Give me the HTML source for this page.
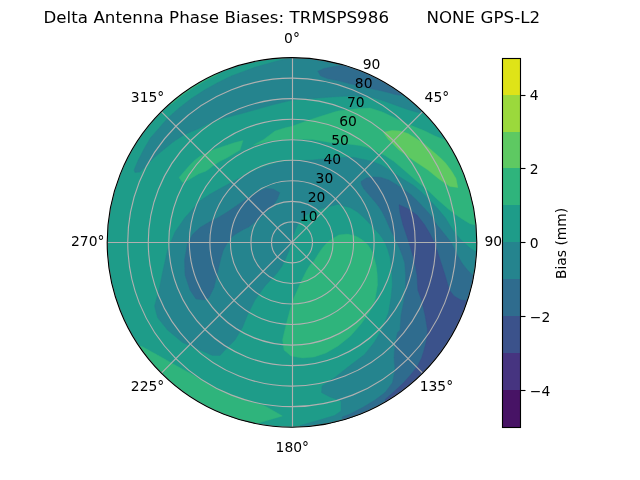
<!DOCTYPE html>
<html><head><meta charset="utf-8"><title>Delta Antenna Phase Biases</title>
<style>
html,body{margin:0;padding:0;background:#fff;}
body{width:640px;height:480px;overflow:hidden;}
svg{display:block;}
text{font-family:"DejaVu Sans","Liberation Sans",sans-serif;fill:#000;}
.t{font-size:13.889px;}
.g{fill:none;stroke:#b0b0b0;stroke-width:1.111;}
</style></head><body>
<svg width="640" height="480" viewBox="0 0 640 480">
<rect width="640" height="480" fill="#fff"/>
<defs><clipPath id="c"><circle cx="292" cy="242.4" r="184.8"/></clipPath></defs>
<g clip-path="url(#c)">
<rect x="100" y="50" width="390" height="390" fill="#1e9c89"/>
<path d="M134 170 L138 160.6 L143.75 149.4 L150.3 138 L157.8 129.5 L167.72 118.12 L179.15 107.91 L191.3 98.59 L204.12 90.18 L217.54 82.73 L231.39 75.88 L254.77 67.26 L276.14 61.17 L292 57.6 L301.78 55.8 L302.21 47.6 L316.45 48.87 L330.56 51.18 L344.46 54.52 L358.08 58.87 L371.34 64.2 L384.18 70.49 L396.52 77.7 L408.3 85.8 L419.46 94.74 L429.93 104.47 L422 113.5 L416 112 L407.5 109.5 L395 105 L382.5 100.6 L370 97 L355 96 L340 96.5 L325 97.5 L312.5 98.5 L301 99 L292 100.25 L284.4 102 L271 105.3 L256 109.6 L241 113.75 L230 116.6 L218.75 119.4 L207.5 124 L198 129 L190.6 132 L183 135.5 L173.75 141.5 L164.4 149 L155 156.9 L147.5 164.4 L140 172 L135 172.5Z" fill="#25848e" stroke="#25848e" stroke-width="0.4"/>
<path d="M477 252.5 L473.75 250.6 L468.75 247 L463.75 242.5 L458.75 237.5 L453.75 231.25 L450 225.5 L445.5 218 L438.5 209.5 L431 201.5 L422 192.5 L413 185 L403.75 179.5 L396.25 174.4 L388.75 169.4 L381.25 165 L373.75 161.9 L366.25 160 L360 158.75 L355 157.5 L340 157.3 L327.5 158.5 L312.5 160 L292 161 L278.75 162.25 L265.6 166.3 L256.25 170 L246.9 174 L237.5 179.3 L228 184.3 L218.75 189.3 L209.4 194.5 L200 200.8 L185 217.5 L175 232 L167.5 250 L162.5 272.5 L159 290 L154.5 306 L157.5 317.5 L167.5 330 L182.5 342.5 L200 350 L212.5 355.5 L220 355.5 L225 350 L235 340 L242.5 327.5 L247.5 315 L255 300 L265 286 L273 277.5 L277.5 272.5 L281.9 266.25 L285.6 258.75 L288.75 251.25 L291.25 243.75 L293.2 236.25 L295.5 229.5 L299.4 222 L305 215.8 L312.5 211.5 L325 207.5 L337.5 204.5 L350 207.5 L357.5 212 L363.75 217.5 L369 223 L374 228.5 L378.75 233.5 L382.5 238.5 L385.6 244 L388 250.5 L390 257.5 L391.25 266.25 L392 275 L392.3 285 L391 297.5 L388.5 312.5 L383 327.5 L374.5 342 L364.5 354.5 L348 367 L335.5 377 L322 386 L321.5 392.5 L330 397 L341 401 L341 411 L334.5 415.5 L317.5 420.6 L300 425.5 L302.21 437.2 L302.21 437.2 L315.93 435.99 L329.54 433.82 L342.96 430.69 L356.12 426.63 L368.96 421.64 L381.42 415.76 L393.44 409.02 L404.95 401.44 L415.89 393.07 L426.22 383.95 L435.87 374.13 L444.81 363.64 L452.99 352.55 L460.36 340.91 L466.9 328.78 L472.56 316.22 L477.32 303.3 L481.15 290.06 L484.05 276.59 L485.98 262.95 L486.95 249.21Z" fill="#25848e" stroke="#25848e" stroke-width="0.4"/>
<path d="M317.8 71.25 L324 68.4 L334 66.5 L343 65.25 L352.5 66.5 L355.51 57.96 L369.78 63.51 L383.58 70.17 L396.81 77.88 L409.39 86.61 L401 95.5 L395 94.4 L390 93 L380 90.6 L370 88.5 L360 86 L348.75 83.4 L337.5 80.6 L328 78.75 L320.6 76Z" fill="#2f6c8e" stroke="#2f6c8e" stroke-width="0.4"/>
<path d="M279.7 192.8 L273 189 L265.6 188.5 L256.25 192.8 L246.9 198.4 L237.5 205 L228 211.6 L218.75 217.2 L209.4 221.9 L200 227.5 L193 234 L187.5 243 L184.5 260 L185 275 L190 290 L196 299 L205 300 L209 297.5 L214 287.5 L217.5 272.5 L221 258 L223.4 250 L227 243.5 L230 240 L232.5 236.25 L236.25 233.75 L242.5 230 L248.75 226.9 L253.75 223 L258.75 218.75 L263.75 213.75 L268.75 209.4 L273.75 204.4 L277.5 198.75Z" fill="#2f6c8e" stroke="#2f6c8e" stroke-width="0.4"/>
<path d="M361 181.5 L361.25 184 L363.75 188.75 L368 193.75 L373 199.4 L378 205.6 L382.5 212.5 L386.25 220 L389.4 227.5 L392.5 234 L395 238.5 L397.5 243.75 L400 249.5 L402.5 256 L404.7 263 L405.6 275 L405.6 290 L404 300 L401 315 L400 330 L397.5 332.5 L395 345 L394 357.5 L395 370 L392.5 382.5 L385 392.5 L375 400 L362.5 407.5 L350 414 L342 417 L345.77 429.91 L345.77 429.91 L358.72 425.7 L371.34 420.6 L383.58 414.63 L395.37 407.83 L406.66 400.21 L417.39 391.83 L427.5 382.72 L436.96 372.93 L445.71 362.5 L453.72 351.48 L460.93 339.93 L467.32 327.91 L472.86 315.47 L477.52 302.68 L481.27 289.59 L484.1 276.27 L477 277 L472.5 275 L467.5 270 L462.5 263.75 L458.75 257.5 L455 250 L451.25 242.5 L446.25 236.25 L441.25 230 L437 225 L432 217 L426 210 L417 200.5 L411.25 195 L403.75 189.4 L396.25 184.4 L388.75 180 L381.25 177.5 L373.75 176.9 L366.25 178Z" fill="#2f6c8e" stroke="#2f6c8e" stroke-width="0.4"/>
<path d="M399 204.7 L407.5 208.4 L417 215 L424.4 224.4 L430 233.75 L434.7 243 L438.4 254.4 L442 265.6 L445 275 L447.8 284.4 L449.5 290 L454 296 L461 300 L470 301 L478.54 299.43 L478.54 299.43 L473.74 313.26 L467.92 326.69 L461.1 339.64 L453.34 352.04 L444.66 363.83 L435.13 374.94 L424.79 385.29 L413.7 394.85 L401.93 403.54 L389.53 411.33 L385 399.5 L393 392.5 L402.5 383.75 L410.5 375 L417.5 366 L421.5 358 L424 350 L426.5 340 L427.5 330 L425 315 L421.5 300 L417.8 290 L417 275 L414 260 L410.3 247 L406.6 235.6 L402.8 224.4 L400 213Z" fill="#3b528b" stroke="#3b528b" stroke-width="0.4"/>
<path d="M313.75 261.25 L316.9 256.25 L320 251.25 L323.75 246.25 L328.75 241.25 L335 237.3 L338.75 234.9 L347.5 234 L356.25 236.25 L362.5 240 L368 245 L372 251.25 L374.4 258.75 L376.25 266.25 L377.25 275 L377.5 285 L375 300 L369.5 312 L361 324 L350.5 336 L338 346 L326 353 L314 357 L302.5 358 L291 356 L284 350 L282.5 340 L286 325 L290 310 L293.5 298.5 L297.5 290 L300.6 282.5 L303.75 276.25 L306.9 270 L310 265Z" fill="#2fb47c" stroke="#2fb47c" stroke-width="0.4"/>
<path d="M243 140.6 L235 142.5 L227.5 145 L220 147.5 L212.5 150 L206.25 153 L200 156.25 L195 160 L190 165 L185 170.6 L181.25 175 L179 177.5 L182.5 182.5 L187.5 180.6 L192.5 177.5 L198.75 173.75 L206.25 171 L212.5 166.25 L220 161.25 L227.5 157.5 L235 153 L240 150Z" fill="#2fb47c" stroke="#2fb47c" stroke-width="0.4"/>
<path d="M253.5 145 L263.75 139.4 L275 131 L284.4 128 L292 126.3 L305 121.5 L320 116.5 L337.5 111 L356.25 108.75 L370 108 L382.5 112 L395 118 L407.5 124 L415 127 L425 131 L435 136 L444 139.5 L453.72 133.32 L453.72 133.32 L461.18 145.29 L467.75 157.76 L473.4 170.68 L478.11 183.97 L481.85 197.57 L484.59 211.4 L486.32 225.4 L477 225.5 L470 223.75 L463.75 220 L457 215.5 L449.5 210 L438 200 L428 190.5 L416 180.5 L404 170 L393.75 161.25 L385 155.6 L375 150.6 L367.5 147.5 L360 145.5 L347.5 144 L330 142.5 L312.5 139.5 L292.5 139 L270 141Z" fill="#2fb47c" stroke="#2fb47c" stroke-width="0.4"/>
<path d="M141 346 L157.5 355 L175 365 L195 376 L215 387.5 L232.5 395 L250 401 L265 406 L282.5 416 L255 424 L248.12 432.47 L248.12 432.47 L233.99 428.64 L220.19 423.77 L206.79 417.87 L193.88 410.99 L181.51 403.16 L169.77 394.42 L158.72 384.83 L148.41 374.44 L138.92 363.3 L130.28 351.48Z" fill="#2fb47c" stroke="#2fb47c" stroke-width="0.4"/>
<path d="M165.76 104.64 L161.47 97.44 L173.93 87.13 L187.19 77.88 L201.17 69.77 L215.78 62.84 L220.49 69.77 L217.38 74.8 L205.16 80.79 L193.42 87.67 L182.23 95.4 L171.64 103.94Z" fill="#2fb47c" stroke="#2fb47c" stroke-width="0.4"/>
<path d="M383.4 132.2 L392 130.5 L400 131 L408 133.5 L416 138.5 L425 144.5 L433 151.5 L440 157.5 L445.5 163 L451.5 171 L456 178.5 L457.8 187.5 L450 186.5 L439 179 L428 170 L413 160 L399 150 L388 139Z" fill="#5ec962" stroke="#5ec962" stroke-width="0.4"/>
<line class="g" x1="292.5" y1="242.4" x2="292.5" y2="57.6"/>
<line class="g" x1="292" y1="242.4" x2="422.67" y2="111.73"/>
<line class="g" x1="292" y1="242.5" x2="476.8" y2="242.5"/>
<line class="g" x1="292" y1="242.4" x2="422.67" y2="373.07"/>
<line class="g" x1="292.5" y1="242.4" x2="292.5" y2="427.2"/>
<line class="g" x1="292" y1="242.4" x2="161.33" y2="373.07"/>
<line class="g" x1="292" y1="242.5" x2="107.2" y2="242.5"/>
<line class="g" x1="292" y1="242.4" x2="161.33" y2="111.73"/>
<circle class="g" cx="292" cy="242.4" r="20.53"/>
<circle class="g" cx="292" cy="242.4" r="41.07"/>
<circle class="g" cx="292" cy="242.4" r="61.6"/>
<circle class="g" cx="292" cy="242.4" r="82.13"/>
<circle class="g" cx="292" cy="242.4" r="102.67"/>
<circle class="g" cx="292" cy="242.4" r="123.2"/>
<circle class="g" cx="292" cy="242.4" r="143.73"/>
<circle class="g" cx="292" cy="242.4" r="164.27"/>
<circle class="g" cx="292" cy="242.4" r="184.8"/>
</g>
<circle cx="292" cy="242.4" r="184.8" fill="none" stroke="#000" stroke-width="1.111"/>
<text class="t" text-anchor="middle" x="292" y="42.79">0°</text>
<text class="t" text-anchor="middle" x="436.92" y="101.81">45°</text>
<text class="t" text-anchor="middle" x="496.74" y="246.23">90°</text>
<text class="t" text-anchor="middle" x="436.42" y="390.66">135°</text>
<text class="t" text-anchor="middle" x="292.3" y="451.68">180°</text>
<text class="t" text-anchor="middle" x="147.58" y="390.66">225°</text>
<text class="t" text-anchor="middle" x="87.76" y="246.23">270°</text>
<text class="t" text-anchor="middle" x="147.58" y="101.81">315°</text>
<text class="t" x="299.86" y="220.54">10</text>
<text class="t" x="307.72" y="201.57">20</text>
<text class="t" x="315.57" y="182.6">30</text>
<text class="t" x="323.43" y="163.63">40</text>
<text class="t" x="331.29" y="144.66">50</text>
<text class="t" x="339.15" y="125.69">60</text>
<text class="t" x="347" y="106.72">70</text>
<text class="t" x="354.86" y="87.75">80</text>
<text class="t" x="362.72" y="68.78">90</text>
<text text-anchor="middle" font-size="16.667" letter-spacing="0.045" x="291.8" y="23.1" xml:space="preserve" style="white-space:pre">Delta Antenna Phase Biases: TRMSPS986       NONE GPS-L2</text>
<rect x="502.5" y="58.5" width="18" height="369" fill="#fff"/>
<rect x="502.5" y="390" width="18" height="37.5" fill="#471365" shape-rendering="crispEdges"/>
<rect x="502.5" y="353" width="18" height="37" fill="#463480" shape-rendering="crispEdges"/>
<rect x="502.5" y="316" width="18" height="37" fill="#3b528b" shape-rendering="crispEdges"/>
<rect x="502.5" y="279" width="18" height="37" fill="#2f6c8e" shape-rendering="crispEdges"/>
<rect x="502.5" y="242" width="18" height="37" fill="#25848e" shape-rendering="crispEdges"/>
<rect x="502.5" y="205" width="18" height="37" fill="#1e9c89" shape-rendering="crispEdges"/>
<rect x="502.5" y="168" width="18" height="37" fill="#2fb47c" shape-rendering="crispEdges"/>
<rect x="502.5" y="132" width="18" height="36" fill="#5ec962" shape-rendering="crispEdges"/>
<rect x="502.5" y="95" width="18" height="37" fill="#9bd93c" shape-rendering="crispEdges"/>
<rect x="502.5" y="58.5" width="18" height="36.5" fill="#dfe318" shape-rendering="crispEdges"/>
<rect x="502.5" y="58.5" width="18" height="369" fill="none" stroke="#000" stroke-width="1.111"/>
<line x1="520.5" y1="390.5" x2="525.5" y2="390.5" stroke="#000" stroke-width="1.111"/>
<text class="t" x="529.8" y="395.8">−4</text>
<line x1="520.5" y1="316.5" x2="525.5" y2="316.5" stroke="#000" stroke-width="1.111"/>
<text class="t" x="529.8" y="321.8">−2</text>
<line x1="520.5" y1="242.5" x2="525.5" y2="242.5" stroke="#000" stroke-width="1.111"/>
<text class="t" x="529.8" y="247.8">0</text>
<line x1="520.5" y1="168.5" x2="525.5" y2="168.5" stroke="#000" stroke-width="1.111"/>
<text class="t" x="529.8" y="173.8">2</text>
<line x1="520.5" y1="95.5" x2="525.5" y2="95.5" stroke="#000" stroke-width="1.111"/>
<text class="t" x="529.8" y="100">4</text>
<text class="t" text-anchor="middle" x="566.39" y="243.4" transform="rotate(-90 566.39 243.4)">Bias (mm)</text>
</svg>
</body></html>
